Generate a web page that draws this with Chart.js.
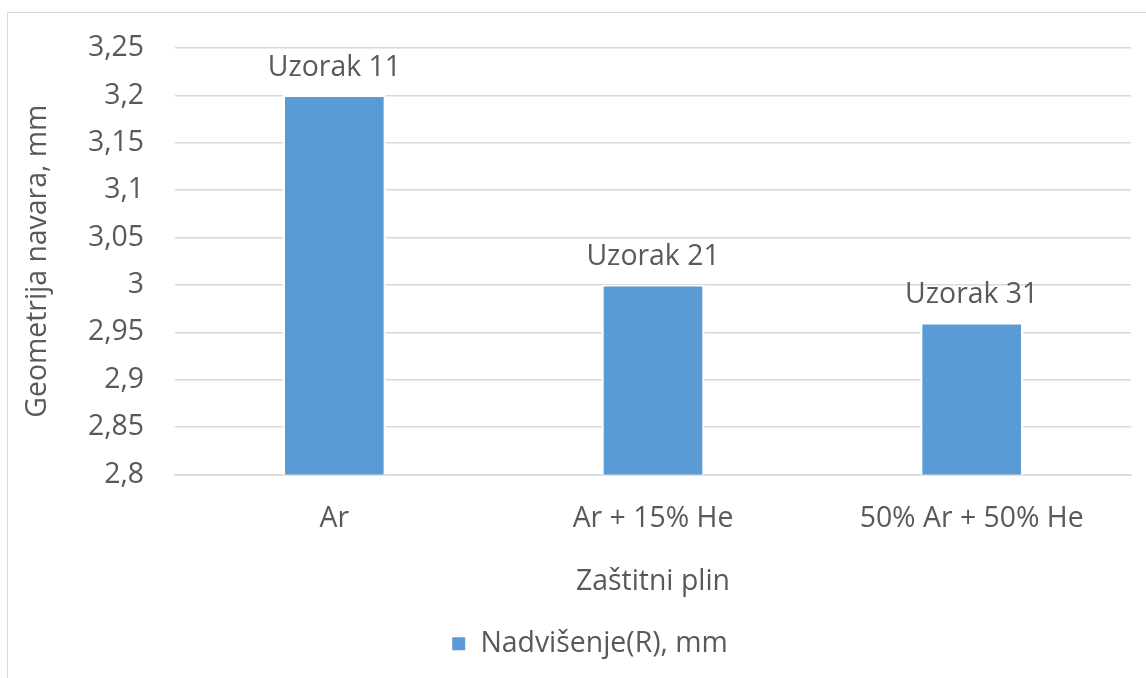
<!DOCTYPE html>
<html>
<head>
<meta charset="utf-8">
<script src="https://cdn.jsdelivr.net/npm/chart.js@4.4.1/dist/chart.umd.min.js"></script>
<style>
  html, body { margin: 0; padding: 0; background: #ffffff; }
  #wrap { position: relative; width: 1146px; height: 678px; overflow: hidden; }
  #frame { position: absolute; left: 7px; top: 12px; width: 1200px; height: 700px;
           border-left: 1.5px solid #d9d9d9; border-top: 1.5px solid #d9d9d9; }
  canvas { position: absolute; left: 0; top: 0; }
</style>
</head>
<body>
<div id="wrap">
  <div id="frame"></div>
  <canvas id="chart" width="1146" height="678"></canvas>
</div>
<script>
// Shielding gas variants and the measured weld reinforcement height
const categories = ['Ar', 'Ar + 15% He', '50% Ar + 50% He'];
const reinforcement = [3.2, 3.0, 2.96];
const sampleLabels = ['Uzorak 11', 'Uzorak 21', 'Uzorak 31'];
const tickLabels = ['2,8', '2,85', '2,9', '2,95', '3', '3,05', '3,1', '3,15', '3,2', '3,25'];
const yMin = 2.8, yMax = 3.25, yStep = 0.05;

const FONT = "'Open Sans', sans-serif";
const FS = 28.4;
const TEXT = '#595959';
const GRID = '#d9d9d9';

// Sample names printed above each bar
const barLabels = {
  id: 'barLabels',
  afterDatasetsDraw(chart) {
    const ctx = chart.ctx;
    const meta = chart.getDatasetMeta(0);
    ctx.save();
    ctx.font = FS + 'px ' + FONT;
    ctx.fillStyle = TEXT;
    ctx.textAlign = 'center';
    ctx.textBaseline = 'middle';
    meta.data.forEach((bar, i) => {
      ctx.fillText(sampleLabels[i], bar.x, bar.y - 28);
    });
    ctx.restore();
  }
};

// Nudge the legend a little to the right of the canvas centre
const legendShift = {
  id: 'legendShift',
  afterLayout(chart) {
    const lg = chart.legend;
    if (lg) { lg.left += 20; lg.right += 20; }
  }
};

new Chart(document.getElementById('chart'), {
  type: 'bar',
  data: {
    labels: categories,
    datasets: [{
      label: 'Nadvišenje(R), mm',
      data: reinforcement,
      backgroundColor: '#5b9bd5',
      borderColor: '#ffffff',
      borderWidth: 2,
      borderSkipped: 'start',
      barThickness: 102
    }]
  },
  options: {
    responsive: false,
    animation: false,
    layout: { padding: { left: 8, right: 15, top: 45, bottom: 10 } },
    plugins: {
      tooltip: { enabled: false },
      legend: {
        position: 'bottom',
        labels: {
          font: { family: FONT, size: FS },
          color: TEXT,
          boxWidth: 15,
          boxHeight: 15,
          padding: 10
        }
      }
    },
    scales: {
      x: {
        grid: { display: false },
        border: { display: true, color: GRID, width: 1.5 },
        ticks: { font: { family: FONT, size: FS }, color: TEXT, padding: 19 },
        title: {
          display: true,
          text: 'Zaštitni plin',
          font: { family: FONT, size: FS },
          color: TEXT,
          padding: { top: 10, bottom: 21 }
        }
      },
      y: {
        min: yMin,
        max: yMax,
        grid: { color: GRID, lineWidth: 1.5, drawTicks: false },
        border: { display: false },
        ticks: {
          stepSize: yStep,
          padding: 31,
          font: { family: FONT, size: FS },
          color: TEXT,
          callback: (v, i) => tickLabels[i]
        },
        title: {
          display: true,
          text: 'Geometrija navara, mm',
          font: { family: FONT, size: FS },
          color: TEXT,
          padding: { top: 13, bottom: 0 }
        },
        afterFit(scale) { scale.width = 167; }
      }
    }
  },
  plugins: [barLabels, legendShift]
});
</script>
</body>
</html>
